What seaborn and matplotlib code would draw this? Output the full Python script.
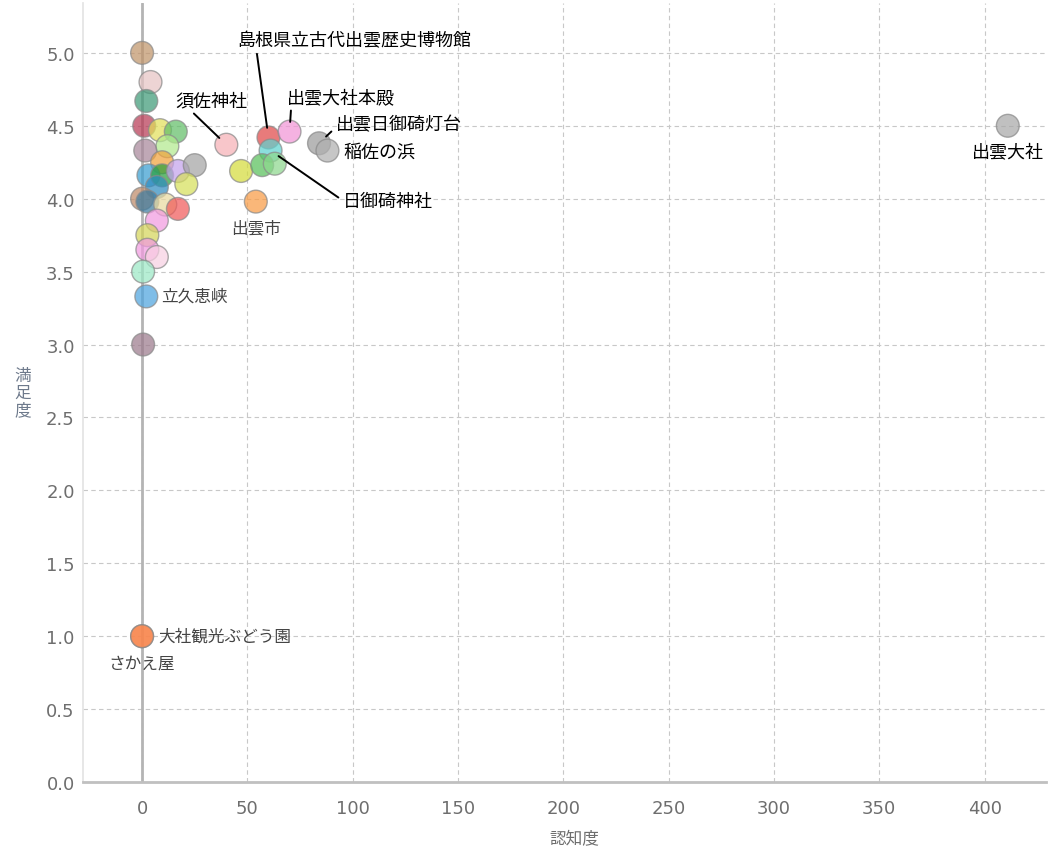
import matplotlib

matplotlib.use("Agg")
import matplotlib.pyplot as plt
import numpy as np
import pandas as pd
import seaborn as sns

# spots: name, recognition (認知度), satisfaction (満足度)
spot_names = [
    "出雲大社", "島根県立古代出雲歴史博物館", "出雲大社本殿", "須佐神社",
    "出雲日御碕灯台", "稲佐の浜", "日御碕神社", "出雲市", "立久恵峡",
    "大社観光ぶどう園", "さかえ屋",
    "s12", "s13", "s14", "s15", "s16", "s17", "s18", "s19", "s20",
    "s21", "s22", "s23", "s24", "s25", "s26", "s27", "s28", "s29",
    "s30", "s31", "s32", "s33", "s34", "s35", "s36", "s37", "s38", "s39",
]
recognition = [
    411, 60, 70, 40, 84, 88, 61, 54, 2, 0, 0,
    0, 4, 2, 1, 8.5, 16, 12, 1.5, 9.5,
    3, 9.5, 17, 25, 21, 7, 0, 2.5, 11,
    17, 7, 2.5, 2.5, 7, 0.5, 0.5, 47, 57, 63,
]
satisfaction = [
    4.5, 4.42, 4.46, 4.37, 4.38, 4.33, 4.33, 3.98, 3.33, 1.0, 1.0,
    5.0, 4.8, 4.67, 4.5, 4.47, 4.46, 4.36, 4.33, 4.25,
    4.16, 4.16, 4.19, 4.23, 4.1, 4.08, 4.0, 3.98, 3.96,
    3.93, 3.85, 3.75, 3.65, 3.6, 3.5, 3.0, 4.19, 4.23, 4.24,
]
spot_colors = [
    "#a8a8a8", "#e04848", "#f295d6", "#f6b0b6", "#9c9c9c", "#b0b0b0",
    "#5fd2cf", "#f99c45", "#4ea4de", "#f8874f", "#f8874f",
    "#c0946a", "#e6c4c4", "#3f9a78", "#b83a55", "#e2e05a", "#62bf68",
    "#b2ea8e", "#a8879a", "#f0a23c", "#3a9fd0", "#2aa03c", "#c4a2ec",
    "#a4a4a4", "#d6e05a", "#2f8cc0", "#bd8a68", "#3e7ca0", "#eadaa0",
    "#f05a5a", "#f29ae0", "#d4d45a", "#f29ae0", "#f8d0e2", "#9ce8c6",
    "#9c7a8c", "#d4dc3c", "#58c05a", "#8ed88e",
]

# label: (offset in points, ha, va, arrow start relpos or None)
labels = {
    "須佐神社": ((-11, 32), "center", "center", (0.2, 0.0)),
    "島根県立古代出雲歴史博物館": ((62, 70), "center", "center", (0.08, 0.0)),
    "出雲大社本殿": ((37, 25), "center", "center", (0.04, 0.0)),
    "出雲日御碕灯台": ((12, 14), "left", "center", (0.0, 0.3)),
    "稲佐の浜": ((11.5, -1), "left", "center", None),
    "日御碕神社": ((52, -36), "left", "center", (0.0, 0.5)),
    "出雲大社": ((0, -18), "center", "center", None),
    "出雲市": ((0, -19), "center", "center", None),
    "立久恵峡": ((11, 0), "left", "center", None),
    "大社観光ぶどう園": ((12, 0), "left", "center", None),
    "さかえ屋": ((0, -19.5), "center", "center", None),
}
grey_labels = {"出雲市", "立久恵峡", "大社観光ぶどう園", "さかえ屋"}

df = pd.DataFrame({"name": spot_names, "認知度": recognition, "満足度": satisfaction})

sns.set_theme(style="white")
plt.rcParams["font.family"] = ["Noto Sans CJK JP", "DejaVu Sans"]

fig = plt.figure(figsize=(10.52, 8.53), dpi=100)
ax = fig.add_axes([0.079, 0.082, 0.915, 0.913])

ax.set_xlim(-28, 429)
ax.set_ylim(0, 5.34)
ax.set_xticks(np.arange(0, 401, 50))
ax.set_yticks(np.arange(0, 5.01, 0.5))
ax.set_yticklabels([f"{v:.1f}" for v in np.arange(0, 5.01, 0.5)])
ax.grid(True, color="#c8c8c8", linestyle=(0, (4, 3)), linewidth=0.8)
ax.set_axisbelow(True)
ax.axvline(0, color="#b4b4b4", linewidth=2, zorder=1)

sns.scatterplot(
    data=df, x="認知度", y="満足度", hue="name", palette=spot_colors,
    s=270, alpha=0.72, edgecolor="#8a8a8a", linewidth=1.0, legend=False,
    ax=ax, zorder=3,
)

for name, (off, ha, va, rel) in labels.items():
    row = df[df["name"] == name].iloc[0]
    color = "#444444" if name in grey_labels else "black"
    size = 12 if name in grey_labels else 13
    kw = {}
    if rel is not None:
        kw["arrowprops"] = dict(arrowstyle="-", color="black", lw=1.4,
                                relpos=rel, shrinkA=1, shrinkB=7)
    ax.annotate(name, xy=(row["認知度"], row["満足度"]), xytext=off,
                textcoords="offset points", ha=ha, va=va, fontsize=size,
                color=color, zorder=5, **kw)

for side in ["top", "right"]:
    ax.spines[side].set_visible(False)
ax.spines["left"].set_color("#e4e4e4")
ax.spines["bottom"].set_color("#c0c0c0")
ax.spines["bottom"].set_linewidth(2)

ax.tick_params(axis="x", colors="#6e6e6e", labelsize=13, length=0, pad=12)
ax.tick_params(axis="y", colors="#6e6e6e", labelsize=13, length=0, pad=6)
for t in ax.get_xticklabels() + ax.get_yticklabels():
    t.set_family("DejaVu Sans")
ax.set_xlabel("認知度", color="#6e6e6e", fontsize=12)
ax.xaxis.set_label_coords(0.51, -0.062)
ax.set_ylabel("満\n足\n度", color="#6e7a8c", fontsize=12, rotation=0,
              va="center", ha="center", linespacing=1.0)
ax.yaxis.set_label_coords(-0.063, 0.5)

fig.savefig("out.png", dpi=100)
